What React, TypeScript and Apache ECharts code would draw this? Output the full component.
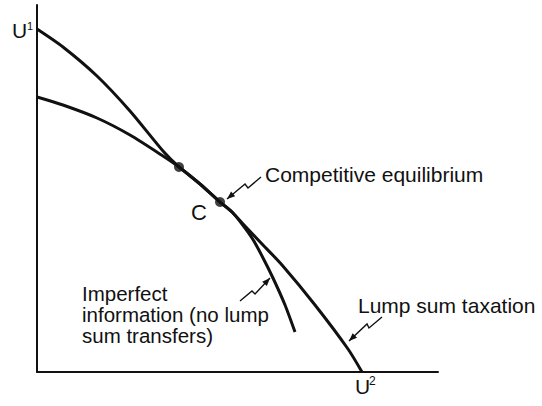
import React, { useEffect, useRef } from "react";
import * as echarts from "echarts";

// Utility possibility frontier curves (U2 on x, U1 on y), units 0-100
const lumpX = [0, 6.48, 14.96, 23.19, 31.42, 35.41, 40.65, 45.64, 48.63, 51.87, 56.36, 61.1, 69.33, 77.56, 81.05];
const lumpY = [93.46, 88.56, 80.65, 71.12, 60.22, 55.86, 51.23, 46.32, 43.6, 39.78, 34.6, 29.16, 18.26, 6.27, 0];
const imperfX = [0, 6.48, 14.96, 23.19, 31.42, 35.41, 40.65, 45.64, 48.63, 51.12, 53.62, 56.11, 58.85, 61.85, 64.34];
const imperfY = [74.93, 72.75, 69.21, 64.58, 58.86, 55.86, 51.23, 46.32, 43.6, 40.33, 36.51, 31.61, 25.61, 18.26, 10.9];
// Equilibrium points
const dotX = [35.41, 45.64];
const dotY = [55.86, 46.32];

const labelComp = "Competitive equilibrium";
const labelC = "C";
const labelImperf = "Imperfect\ninformation (no lump\nsum transfers)";
const labelLump = "Lump sum taxation";

const INK = "#111";
const FONT = '"Liberation Sans", Arial, sans-serif';

function arrow(points: number[][]) {
  const n = points.length;
  const tip = points[n - 1];
  const prev = points[n - 2];
  const dx = tip[0] - prev[0];
  const dy = tip[1] - prev[1];
  const len = Math.hypot(dx, dy) || 1;
  const ux = dx / len, uy = dy / len;
  const L = 8, W = 3.2;
  const bx = tip[0] - ux * L, by = tip[1] - uy * L;
  const head = [
    [tip[0], tip[1]],
    [bx - uy * W, by + ux * W],
    [bx + uy * W, by - ux * W],
  ];
  return [
    { type: "polyline", shape: { points }, style: { stroke: INK, lineWidth: 1.4, fill: null } },
    { type: "polygon", shape: { points: head }, style: { fill: INK } },
  ];
}

function txt(x: number, y: number, text: string, size: number, extra: any = {}) {
  return {
    type: "text",
    x,
    y,
    style: {
      text,
      fontSize: size,
      fontFamily: FONT,
      fill: INK,
      verticalAlign: "top",
      align: "left",
      ...extra,
    },
  };
}

export default function App() {
  const ref = useRef<HTMLDivElement>(null);
  useEffect(() => {
    if (!ref.current) return;
    const chart = echarts.init(ref.current, null, { renderer: "svg" });
    const axisCommon = {
      type: "value",
      min: 0,
      max: 100,
      axisLine: { show: true, lineStyle: { color: INK, width: 2 } },
      axisTick: { show: false },
      axisLabel: { show: false },
      splitLine: { show: false },
    };
    chart.setOption({
      animation: false,
      backgroundColor: "#fff",
      grid: { left: 37, right: 104, top: 5, bottom: 34 },
      xAxis: { ...axisCommon },
      yAxis: { ...axisCommon },
      series: [
        {
          name: "Lump sum taxation",
          type: "line",
          data: lumpX.map((x, i) => [x, lumpY[i]]),
          smooth: 0.25,
          symbol: "none",
          lineStyle: { color: INK, width: 3 },
          z: 3,
        },
        {
          name: "Imperfect information",
          type: "line",
          data: imperfX.map((x, i) => [x, imperfY[i]]),
          smooth: 0.25,
          symbol: "none",
          lineStyle: { color: INK, width: 3 },
          z: 3,
        },
        {
          name: "Equilibria",
          type: "scatter",
          data: dotX.map((x, i) => [x, dotY[i]]),
          symbolSize: 10,
          itemStyle: { color: INK },
          z: 4,
        },
      ],
      graphic: [
        txt(12, 20, "U", 21),
        txt(27, 20, "1", 11),
        txt(355, 376, "U", 21),
        txt(369, 375, "2", 12),
        txt(265, 164, labelComp, 21),
        txt(191, 201, labelC, 22),
        txt(82, 283, labelImperf, 20.5, { lineHeight: 21 }),
        txt(358, 295, labelLump, 21),
        ...arrow([[261, 177], [248, 188], [245, 184], [227, 199]]),
        ...arrow([[240, 301], [252, 291], [255, 294], [270, 278]]),
        ...arrow([[382, 317], [369, 328], [367, 324], [349, 341]]),
      ],
    });
    return () => chart.dispose();
  }, []);
  return (
    <div
      ref={ref}
      style={{ position: "absolute", left: 0, top: 0, width: 542, height: 406 }}
    />
  );
}
